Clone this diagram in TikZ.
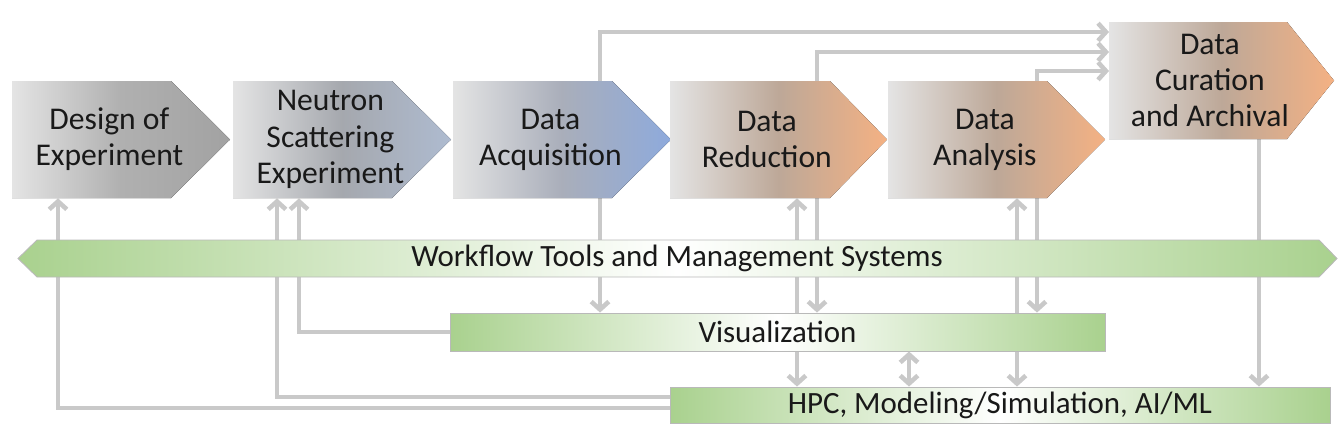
\documentclass[tikz,border=0pt]{standalone}
\usepackage{fontspec}
\setmainfont{Carlito}
\usetikzlibrary{arrows.meta,backgrounds}

% Farben
\definecolor{gruen}{HTML}{A9D18E}
\definecolor{hellgrau}{HTML}{E4E4E4}
\definecolor{linie}{HTML}{C9C9C9}
\definecolor{grauM}{HTML}{B0B0B0}
\definecolor{grauR}{HTML}{A2A2A2}
\definecolor{neuM}{HTML}{A5A8AE}
\definecolor{neuR}{HTML}{AEBBD0}
\definecolor{akqM}{HTML}{A9AEBA}
\definecolor{akqR}{HTML}{8EAADC}
\definecolor{orgM}{HTML}{BDA898}
\definecolor{orgR}{HTML}{F4B183}

% Stufe: Name, links, oben, Breite, Spitze, Farben, Text
\newcommand\Stufe[7]{%
\fill[#6] (#2,#3) -- (#2+#4-#5,#3) -- (#2+#4,#3+58.5) -- (#2+#4-#5,#3+117) -- (#2,#3+117) -- cycle;
\node[stufe, minimum width={(#4-24)*0.02cm}, anchor=west] (#1) at (#2,#3+58.5) {#7};}

\begin{document}
\begin{tikzpicture}[x=0.02cm, y=-0.02cm,
  stufe/.style={inner sep=0pt, minimum height=2.34cm, align=center, text=black!90,
    font=\fontsize{18}{20.6}\selectfont},
  balken/.style={draw=gray!55, line width=0.5pt, left color=gruen, right color=gruen, middle color=white},
  pfeil/.style={draw=linie, line width=2.6pt, >={Straight Barb[length=4.5pt,width=10pt]}}]

\useasboundingbox (0,0) rectangle (1343,441);

% Prozessschritte
\Stufe{entwurf}{12}{81}{218}{59}{left color=hellgrau, right color=grauR, middle color=grauM}{Design of\\Experiment}
\Stufe{neu}{233}{81}{218}{59}{left color=hellgrau, right color=neuR, middle color=neuM}{Neutron\\Scattering\\Experiment}
\Stufe{akq}{453}{81}{218}{59}{left color=hellgrau, right color=akqR, middle color=akqM}{Data\\Acquisition}
\Stufe{red}{670}{81}{217}{57}{left color=hellgrau, right color=orgR, middle color=orgM}{Data\\Reduction}
\Stufe{ana}{888}{81}{217}{58}{left color=hellgrau, right color=orgR, middle color=orgM}{Data\\Analysis}
\Stufe{kur}{1109}{22}{225}{47}{left color=hellgrau, right color=orgR, middle color=orgM}{Data\\Curation\\and Archival}

% Balken
\path[balken] (18,258.5) -- (37,240) -- (1319,240) -- (1337,258.5) -- (1319,277) -- (37,277) -- cycle;
\node[stufe, minimum height=0.74cm, font=\fontsize{17.6}{20}\selectfont] (ablauf) at (677,258.5) {Workflow Tools and Management Systems};
\node[balken, stufe, minimum width=655*0.02cm, minimum height=0.76cm, font=\fontsize{17.6}{20}\selectfont] (visual) at (777.5,332) {Visualization};
\node[balken, stufe, minimum width=660*0.02cm, minimum height=0.72cm, font=\fontsize{17.6}{20}\selectfont] (hpc) at (1000,405) {HPC, Modeling/Simulation, AI/ML};

% Verbindungen (hinter den Balken)
\begin{pgfonlayer}{background}
\draw[pfeil,->] (akq.north -| 600,0) |- (kur.west |- 0,32);
\draw[pfeil,->] (red.north -| 817,0) |- (kur.west |- 0,52);
\draw[pfeil,->] (ana.north -| 1037,0) |- (kur.west |- 0,71);

\draw[pfeil,->] (akq.south -| 600,0) -- (visual.north -| 600,0);
\draw[pfeil,->] (red.south -| 817,0) -- (visual.north -| 817,0);
\draw[pfeil,->] (ana.south -| 1037,0) -- (visual.north -| 1037,0);

\draw[pfeil,<->] (red.south -| 797,0) -- (hpc.north -| 797,0);
\draw[pfeil,<->] (ana.south -| 1017,0) -- (hpc.north -| 1017,0);
\draw[pfeil,<->] (visual.south -| 909,0) -- (hpc.north -| 909,0);
\draw[pfeil,->] (kur.south -| 1259,0) -- (hpc.north -| 1259,0);

\draw[pfeil,->] (visual.west) -| (neu.south -| 299,0);
\draw[pfeil,->] (hpc.west |- 0,397) -| (neu.south -| 277,0);
\draw[pfeil,->] (hpc.west |- 0,408) -| (entwurf.south -| 58,0);
\end{pgfonlayer}

\end{tikzpicture}
\end{document}
